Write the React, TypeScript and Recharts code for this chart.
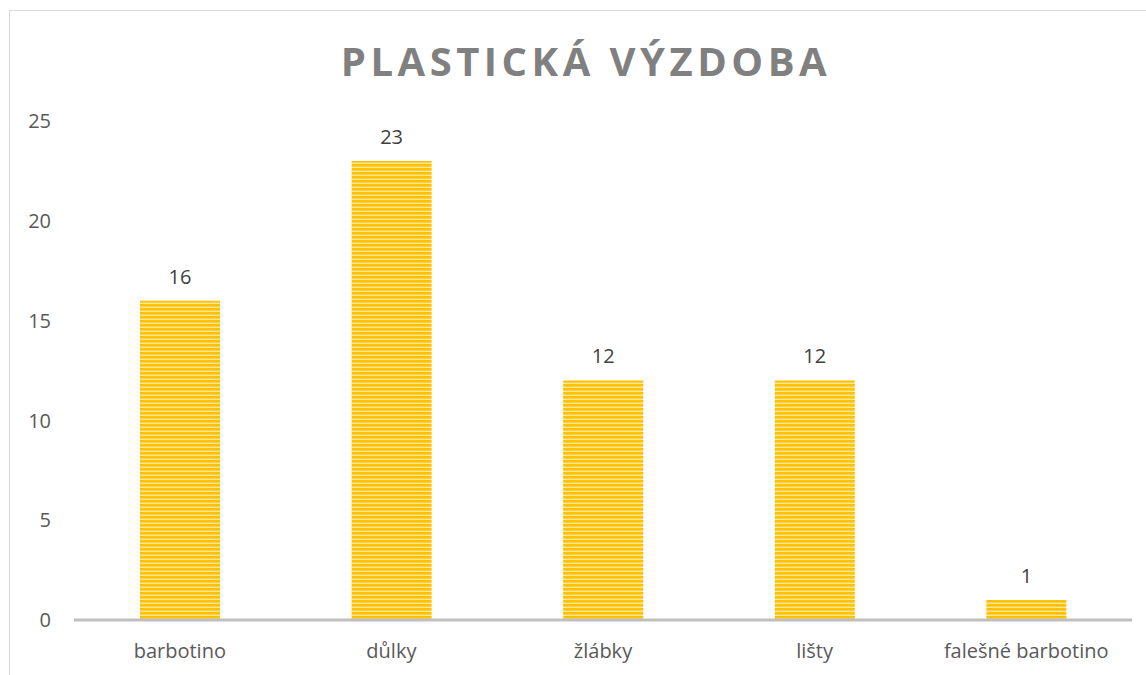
import { BarChart, Bar, XAxis, YAxis, LabelList } from "recharts";

const categories = ["barbotino", "důlky", "žlábky", "lišty", "falešné barbotino"];
const counts = [16, 23, 12, 12, 1];
const yTicks = [0, 5, 10, 15, 20, 25];

const data = categories.map((name, i) => ({ name, value: counts[i] }));

const FONT = "'Open Sans', 'Liberation Sans', sans-serif";

export default function App() {
  return (
    <div style={{ position: "absolute", left: 0, top: 0, width: 1146, height: 675, background: "#fff", overflow: "hidden" }}>
      {/* chart frame */}
      <div
        style={{
          position: "absolute",
          left: 9,
          top: 10,
          width: 1200,
          height: 700,
          borderLeft: "1px solid #d9d9d9",
          borderTop: "1px solid #d9d9d9",
        }}
      />
      <div
        style={{
          position: "absolute",
          left: 0,
          top: 33,
          width: 1172,
          textAlign: "center",
          fontFamily: FONT,
          fontWeight: 700,
          fontSize: 40,
          letterSpacing: 4.5,
          color: "#808080",
        }}
      >
        PLASTICKÁ VÝZDOBA
      </div>
      <BarChart
        width={1146}
        height={675}
        data={data}
        margin={{ top: 121, right: 14, bottom: 0, left: 0 }}
        barSize={80}
        style={{ position: "absolute", left: 0, top: 0 }}
      >
        <defs>
          <pattern id="stripes" patternUnits="userSpaceOnUse" width="8" height="4">
            <rect x="0" y="0" width="8" height="4" fill="#FFC000" />
            <rect x="0" y="2.6" width="8" height="1.4" fill="#FFE79A" />
          </pattern>
        </defs>
        <XAxis
          dataKey="name"
          height={55}
          tickLine={false}
          axisLine={{ stroke: "#bfbfbf", strokeWidth: 3 }}
          tickMargin={18}
          tick={{ fill: "#595959", fontSize: 20, fontFamily: FONT }}
          interval={0}
        />
        <YAxis
          width={74}
          domain={[0, 25]}
          ticks={yTicks}
          axisLine={false}
          tickLine={false}
          tickMargin={17}
          tick={{ fill: "#595959", fontSize: 20, fontFamily: FONT }}
        />
        <Bar dataKey="value" fill="url(#stripes)" isAnimationActive={false}>
          <LabelList
            dataKey="value"
            position="top"
            offset={17}
            style={{ fill: "#404040", fontSize: 20, fontFamily: FONT }}
          />
        </Bar>
      </BarChart>
    </div>
  );
}
